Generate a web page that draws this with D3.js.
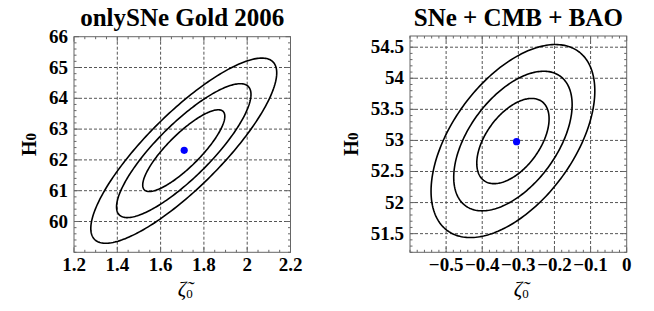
<!DOCTYPE html>
<html>
<head>
<meta charset="utf-8">
<script src="https://cdn.jsdelivr.net/npm/d3@7"></script>
<style>
  body { margin: 0; background: #fff; }
  svg text { font-family: 'Liberation Serif', 'DejaVu Serif', serif; font-weight: bold; fill: #000; }
</style>
</head>
<body>
<div id="wrapper"></div>
<script>
// panel titles
const titles = ["onlySNe Gold 2006", "SNe + CMB + BAO"];
// axis domains
const xDomains = [[1.2, 2.2], [-0.6, 0]];
const yDomains = [[59, 66], [51.2, 54.68]];
// labelled ticks
const xTicks = [[1.2, 1.4, 1.6, 1.8, 2, 2.2], [-0.5, -0.4, -0.3, -0.2, -0.1, 0]];
const yTicks = [[60, 61, 62, 63, 64, 65, 66], [51.5, 52, 52.5, 53, 53.5, 54, 54.5]];
const xTickLabels = [["1.2", "1.4", "1.6", "1.8", "2", "2.2"], ["\u22120.5", "\u22120.4", "\u22120.3", "\u22120.2", "\u22120.1", "0"]];
const yTickLabels = [["60", "61", "62", "63", "64", "65", "66"], ["51.5", "52", "52.5", "53", "53.5", "54", "54.5"]];
// minor tick spacing
const xMinor = [0.05, 0.02];
const yMinor = [0.2, 0.1];
// best fit points (blue dots)
const bestZeta = [1.709, -0.305];
const bestH = [62.31, 52.98];
// contour centres, widths and correlation
const centreZeta = [1.707, -0.315];
const centreH = [62.3, 52.99];
const sigmaZeta = [0.125, 0.066];
const sigmaH = [0.875, 0.452];
const rho = [0.84, 0.52];
// delta chi^2 of the 1, 2, 3 sigma contours
const levels = [2.3, 6.17, 11.8];

const W = 654, H = 311;
const svg = d3.select("#wrapper").append("svg")
    .attr("width", W)
    .attr("height", H)
    .attr("font-family", "Liberation Serif");

const panels = [
    { left: 74, right: 290.5, top: 36.7, bottom: 252.3 },
    { left: 410, right: 626.7, top: 36, bottom: 252.3 }
];

function ellipse(p, lev) {
    var k = Math.sqrt(lev);
    var pts = [];
    for (let i = 0; i <= 240; i++) {
        var t = i / 240 * 2 * Math.PI;
        var a = Math.cos(t), b = Math.sin(t);
        pts.push({
            z: centreZeta[p] + k * sigmaZeta[p] * a,
            h: centreH[p] + k * sigmaH[p] * (rho[p] * a + Math.sqrt(1 - rho[p] * rho[p]) * b)
        });
    }
    return pts;
}

panels.forEach((pn, p) => {
    const x = d3.scaleLinear().domain(xDomains[p]).range([pn.left, pn.right]);
    const y = d3.scaleLinear().domain(yDomains[p]).range([pn.bottom, pn.top]);
    const g = svg.append("g");

    // dashed grid
    g.selectAll(".gx").data(xTicks[p].filter(v => x(v) > pn.left + 1 && x(v) < pn.right - 1))
        .enter().append("line")
        .attr("x1", d => x(d)).attr("x2", d => x(d))
        .attr("y1", pn.top).attr("y2", pn.bottom)
        .attr("stroke", "#555").attr("stroke-width", 1).attr("stroke-dasharray", "3,2");
    g.selectAll(".gy").data(yTicks[p].filter(v => y(v) > pn.top + 1 && y(v) < pn.bottom - 1))
        .enter().append("line")
        .attr("y1", d => y(d)).attr("y2", d => y(d))
        .attr("x1", pn.left).attr("x2", pn.right)
        .attr("stroke", "#555").attr("stroke-width", 1).attr("stroke-dasharray", "3,2");

    // minor ticks on all sides
    const xm = d3.range(Math.ceil(xDomains[p][0] / xMinor[p]), Math.floor(xDomains[p][1] / xMinor[p]) + 1).map(i => i * xMinor[p]);
    const ym = d3.range(Math.ceil(yDomains[p][0] / yMinor[p]), Math.floor(yDomains[p][1] / yMinor[p]) + 1).map(i => i * yMinor[p]);
    const isMajor = (v, arr) => arr.some(t => Math.abs(t - v) < 1e-6);
    xm.forEach(v => {
        const L = isMajor(v, xTicks[p]) ? 5 : 2.5;
        g.append("line").attr("x1", x(v)).attr("x2", x(v)).attr("y1", pn.bottom).attr("y2", pn.bottom - L).attr("stroke", "#666");
        g.append("line").attr("x1", x(v)).attr("x2", x(v)).attr("y1", pn.top).attr("y2", pn.top + L).attr("stroke", "#666");
    });
    ym.forEach(v => {
        const L = isMajor(v, yTicks[p]) ? 5 : 2.5;
        g.append("line").attr("y1", y(v)).attr("y2", y(v)).attr("x1", pn.left).attr("x2", pn.left + L).attr("stroke", "#666");
        g.append("line").attr("y1", y(v)).attr("y2", y(v)).attr("x1", pn.right).attr("x2", pn.right - L).attr("stroke", "#666");
    });

    // frame
    g.append("rect")
        .attr("x", pn.left).attr("y", pn.top)
        .attr("width", pn.right - pn.left).attr("height", pn.bottom - pn.top)
        .attr("fill", "none").attr("stroke", "#666").attr("stroke-width", 1);

    // contours
    const line = d3.line().x(d => x(d.z)).y(d => y(d.h));
    g.selectAll(".contour").data(levels).enter().append("path")
        .attr("d", lev => line(ellipse(p, lev)))
        .attr("fill", "none").attr("stroke", "#000").attr("stroke-width", 1.6);

    // best fit
    g.append("circle").attr("cx", x(bestZeta[p])).attr("cy", y(bestH[p])).attr("r", 3.6).attr("fill", "#0000ff");

    // tick labels
    g.selectAll(".xl").data(xTicks[p]).enter().append("text")
        .attr("x", d => x(d)).attr("y", 271)
        .attr("text-anchor", "middle").style("font-size", "19px")
        .text((d, i) => xTickLabels[p][i]);
    g.selectAll(".yl").data(yTicks[p]).enter().append("text")
        .attr("x", pn.left - 6).attr("y", d => y(d) + 6)
        .attr("text-anchor", "end").style("font-size", "19px")
        .text((d, i) => yTickLabels[p][i]);

    // title
    g.append("text").attr("x", (pn.left + pn.right) / 2).attr("y", 26)
        .attr("text-anchor", "middle").style("font-size", "25px")
        .text(titles[p]);

    // y label H0
    const yl = g.append("text")
        .attr("transform", `translate(${p === 0 ? 36 : 358},${(pn.top + pn.bottom) / 2}) rotate(-90)`)
        .attr("text-anchor", "middle").style("font-size", "20px");
    yl.append("tspan").text("H");
    yl.append("tspan").style("font-size", "15px").text("0");

    // x label zeta~0
    const cx = (pn.left + pn.right) / 2;
    const xl = g.append("text").attr("x", cx + 3).attr("y", 296)
        .attr("text-anchor", "middle")
        .style("font-size", "21px").style("font-style", "italic").style("font-weight", "normal");
    xl.append("tspan").text("\u03b6\u0303");
    xl.append("tspan").style("font-size", "13px").style("font-style", "normal").attr("dy", 2).text("0");
});
</script>
</body>
</html>
